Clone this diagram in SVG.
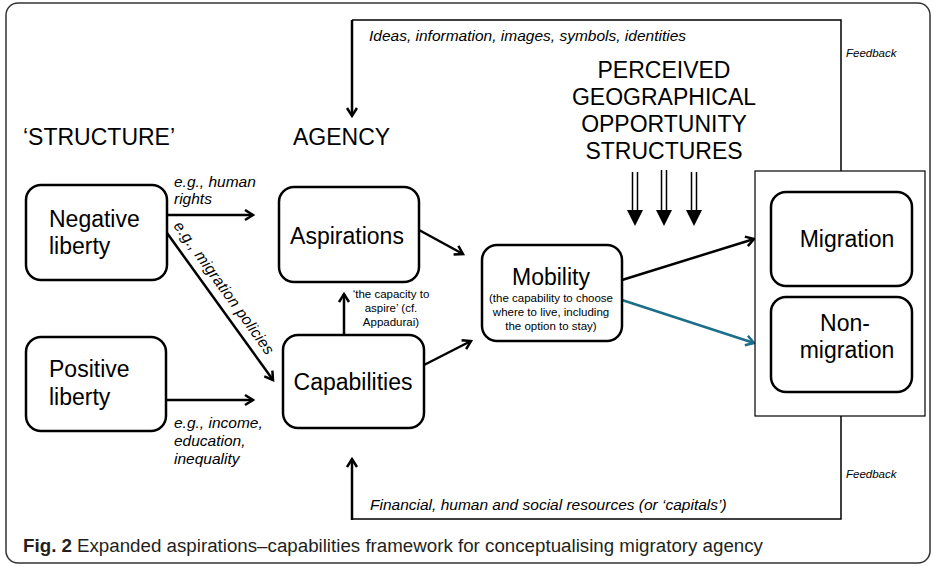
<svg xmlns="http://www.w3.org/2000/svg" width="933" height="566" viewBox="0 0 933 566">
<style>
.box{fill:#fff;stroke:#000;stroke-width:2.5}
.big{font-family:"Liberation Sans",Arial,sans-serif;font-size:23px;fill:#000}
.it{font-family:"Liberation Sans",Arial,sans-serif;font-size:15.5px;font-style:italic;fill:#000}
.sm{font-family:"Liberation Sans",Arial,sans-serif;font-size:11.5px;fill:#000}
.fb{font-family:"Liberation Sans",Arial,sans-serif;font-size:11.5px;font-style:italic;fill:#000}
.ln{fill:none;stroke:#000;stroke-width:2.5}
.thin{fill:none;stroke:#000;stroke-width:1.5}
.cap{font-family:"Liberation Sans",Arial,sans-serif;font-size:18px;fill:#231f20}
</style>
<defs>
<marker id="ah" markerUnits="userSpaceOnUse" markerWidth="14" markerHeight="14" refX="10" refY="6" orient="auto">
<path d="M2,1 L10,6 L2,11" fill="none" stroke="#000" stroke-width="2.5"/>
</marker>
<marker id="aht" markerUnits="userSpaceOnUse" markerWidth="14" markerHeight="14" refX="10" refY="6" orient="auto">
<path d="M2,1 L10,6 L2,11" fill="none" stroke="#1b6f8a" stroke-width="2.5"/>
</marker>
</defs>
<rect x="6" y="3" width="924" height="560" rx="12" fill="#fff" stroke="#333" stroke-width="1.5"/>
<g id="connectors">
<path class="thin" d="M352,20 H841 V171"/>
<path class="ln" d="M352,20 V116" stroke-width="2" marker-end="url(#ah)"/>
<path class="thin" d="M841,416 V519 H352"/>
<path class="ln" d="M352,520 V459" stroke-width="2" marker-end="url(#ah)"/>
<path class="ln" d="M167,215 H253" marker-end="url(#ah)"/>
<path class="ln" d="M167,233 L273,380" marker-end="url(#ah)"/>
<path class="ln" d="M166,400 H253" marker-end="url(#ah)"/>
<path class="ln" d="M344,334 V294" marker-end="url(#ah)"/>
<path class="ln" d="M419,230 L463,254" marker-end="url(#ah)"/>
<path class="ln" d="M424,365 L471,341" marker-end="url(#ah)"/>
<path class="ln" d="M622,280 L754,239" marker-end="url(#ah)"/>
<path d="M622,300 L754,343" fill="none" stroke="#1b6f8a" stroke-width="2.5" marker-end="url(#aht)"/>
<g id="opp-arrows" fill="#000" stroke="#000">
<path d="M632.5,172 V211 M637.5,172 V211" stroke-width="1.5" fill="none"/>
<path d="M627,210 L643,210 L635,226 Z" stroke="none"/>
<path d="M661.5,170 V211 M666.5,170 V211" stroke-width="1.5" fill="none"/>
<path d="M656,210 L672,210 L664,226 Z" stroke="none"/>
<path d="M691.5,172 V211 M696.5,172 V211" stroke-width="1.5" fill="none"/>
<path d="M686,210 L702,210 L694,226 Z" stroke="none"/>
</g>
</g>
<text class="it" x="369" y="41" font-size="15.7">Ideas, information, images, symbols, identities</text>
<text class="it" x="370" y="510" font-size="15.7">Financial, human and social resources (or ‘capitals’)</text>
<text class="fb" x="846" y="57">Feedback</text>
<text class="fb" x="846" y="478">Feedback</text>
<text class="big" x="23" y="145">‘STRUCTURE’</text>
<text class="big" x="293" y="145">AGENCY</text>
<g id="opportunity">
<text class="big" text-anchor="middle" x="664" y="78">PERCEIVED</text>
<text class="big" text-anchor="middle" x="664" y="105">GEOGRAPHICAL</text>
<text class="big" text-anchor="middle" x="664" y="132">OPPORTUNITY</text>
<text class="big" text-anchor="middle" x="664" y="159">STRUCTURES</text>
</g>
<text class="it" x="174" y="187">e.g., human</text>
<text class="it" x="174" y="204">rights</text>
<text class="it" x="0" y="0" transform="translate(173,226) rotate(54.2)" font-style="normal" font-size="15" textLength="160" lengthAdjust="spacing">e.g., migration  policies</text>
<text class="it" x="174" y="428">e.g., income,</text>
<text class="it" x="174" y="446">education,</text>
<text class="it" x="174" y="464">inequality</text>
<g id="capacity-label">
<text class="sm" text-anchor="middle" x="391" y="298">‘the capacity to</text>
<text class="sm" text-anchor="middle" x="391" y="312">aspire’ (cf.</text>
<text class="sm" text-anchor="middle" x="391" y="326">Appadurai)</text>
</g>
<g id="negative-liberty">
<rect class="box" x="26" y="185" width="141" height="95" rx="15"/>
<text class="big" x="49" y="227">Negative</text>
<text class="big" x="49" y="254">liberty</text>
</g>
<g id="positive-liberty">
<rect class="box" x="26" y="337" width="140" height="94" rx="15"/>
<text class="big" x="49" y="377">Positive</text>
<text class="big" x="49" y="405">liberty</text>
</g>
<g id="aspirations">
<rect class="box" x="279" y="187" width="140" height="95" rx="15"/>
<text class="big" text-anchor="middle" x="347" y="244">Aspirations</text>
</g>
<g id="capabilities">
<rect class="box" x="283" y="335" width="141" height="93" rx="15"/>
<text class="big" text-anchor="middle" x="353" y="390">Capabilities</text>
</g>
<g id="mobility">
<rect class="box" x="482" y="245" width="140" height="96" rx="15"/>
<text class="big" text-anchor="middle" x="551" y="285">Mobility</text>
<text class="sm" text-anchor="middle" x="551" y="302">(the capability to choose</text>
<text class="sm" text-anchor="middle" x="551" y="316">where to live, including</text>
<text class="sm" text-anchor="middle" x="551" y="330">the option to stay)</text>
</g>
<g id="outcomes">
<rect x="755" y="171" width="170" height="245" fill="#fff" stroke="#000" stroke-width="1.2"/>
</g>
<g id="migration">
<rect class="box" x="771" y="192" width="141" height="94" rx="15"/>
<text class="big" text-anchor="middle" x="847" y="247">Migration</text>
</g>
<g id="non-migration">
<rect class="box" x="771" y="297" width="141" height="95" rx="15"/>
<text class="big" text-anchor="middle" x="845" y="331">Non-</text>
<text class="big" text-anchor="middle" x="847" y="358">migration</text>
</g>
<text class="cap" x="23" y="552" font-weight="bold" textLength="49" lengthAdjust="spacingAndGlyphs">Fig. 2</text>
<text class="cap" x="77" y="552" textLength="686" lengthAdjust="spacingAndGlyphs">Expanded aspirations–capabilities framework for conceptualising migratory agency</text>
</svg>
